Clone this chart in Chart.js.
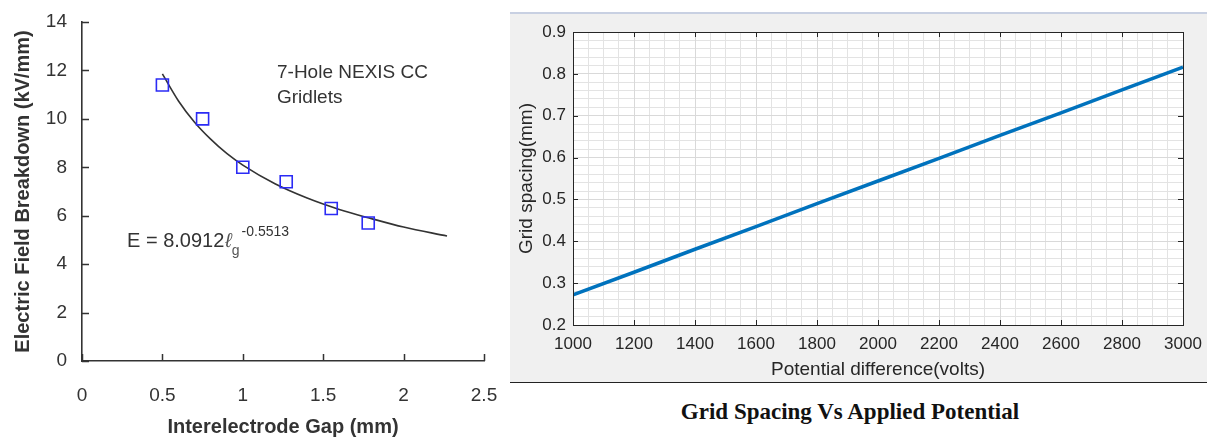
<!DOCTYPE html>
<html>
<head>
<meta charset="utf-8">
<script src="https://cdn.jsdelivr.net/npm/chart.js@4.4.1/dist/chart.umd.min.js"></script>
<style>
  body { margin: 0; background: #fff; }
  #wrap { position: relative; width: 1207px; height: 440px; overflow: hidden; }
  #left { position: absolute; left: 0; top: 0; }
  #panel { position: absolute; left: 510px; top: 12px; width: 697px; height: 368px;
           background: #f0f0f0; border-top: 2px solid #c8d0e2; border-bottom: 1.5px solid #222; }
  #right { position: absolute; left: 0; top: 0; }
  #caption { position: absolute; left: 600px; top: 399px; width: 500px; text-align: center;
             font: bold 23px "Liberation Serif", "Times New Roman", serif; color: #111; }
</style>
</head>
<body>
<div id="wrap">
  <canvas id="left" width="505" height="440"></canvas>
  <div id="panel"><canvas id="right" width="697" height="367"></canvas></div>
  <div id="caption">Grid Spacing Vs Applied Potential</div>
</div>
<script>
// measured breakdown field vs gap (7-hole gridlets)
const gapMeasured = [0.5, 0.75, 1.0, 1.27, 1.55, 1.78];
const fieldMeasured = [11.4, 10.0, 8.0, 7.4, 6.3, 5.7];

// fitted power-law curve
const gapFit = [0.5, 0.6, 0.7, 0.8, 0.9, 1.0, 1.2, 1.4, 1.6, 1.8, 2.0, 2.27];
const fieldFit = [11.86, 10.74, 9.86, 9.16, 8.57, 8.09, 7.32, 6.73, 6.26, 5.88, 5.53, 5.16];

// grid spacing vs applied potential
const volts = [1000, 1200, 1400, 1600, 1800, 2000, 2200, 2400, 2600, 2800, 3000];
const spacing = [0.272, 0.326, 0.381, 0.435, 0.490, 0.544, 0.598, 0.653, 0.707, 0.762, 0.816];

const arial = '"Liberation Sans", Arial, sans-serif';

// fixed axis box size, no extra room reserved for overhanging labels
function fixBox(size) {
  return s => {
    if (s.isHorizontal()) s.height = size; else s.width = size;
    s.paddingLeft = s.paddingRight = s.paddingTop = s.paddingBottom = 0;
  };
}

// ticks drawn on the inner side of the axes
const innerTicks = {
  id: 'innerTicks',
  afterDraw(chart, args, opts) {
    const ctx = chart.ctx;
    const a = chart.chartArea;
    const xs = chart.scales.x, ys = chart.scales.y;
    ctx.save();
    ctx.strokeStyle = opts.color;
    ctx.lineWidth = opts.width;
    ctx.beginPath();
    xs.ticks.forEach(t => {
      const px = Math.round(xs.getPixelForValue(t.value)) + 0.5;
      ctx.moveTo(px, a.bottom); ctx.lineTo(px, a.bottom - opts.len);
      if (opts.box) { ctx.moveTo(px, a.top); ctx.lineTo(px, a.top + opts.len); }
    });
    ys.ticks.forEach(t => {
      const py = Math.round(ys.getPixelForValue(t.value)) + 0.5;
      ctx.moveTo(a.left, py); ctx.lineTo(a.left + opts.len, py);
      if (opts.box) { ctx.moveTo(a.right, py); ctx.lineTo(a.right - opts.len, py); }
    });
    ctx.stroke();
    if (opts.box) {
      ctx.strokeRect(Math.round(a.left) + 0.5, Math.round(a.top) + 0.5,
                     Math.round(a.right - a.left), Math.round(a.bottom - a.top));
    }
    ctx.restore();
  }
};

// text notes inside the left plot
const notes = {
  id: 'notes',
  afterDraw(chart) {
    const ctx = chart.ctx;
    ctx.save();
    ctx.fillStyle = '#333';
    ctx.textBaseline = 'middle';
    ctx.textAlign = 'left';
    ctx.font = '19px ' + arial;
    ctx.fillText('7-Hole NEXIS CC', 277, 73);
    ctx.fillText('Gridlets', 277, 98);
    let x = 127;
    const main = 'E = 8.0912';
    ctx.font = '20px ' + arial;
    ctx.fillText(main, x, 241);
    x += ctx.measureText(main).width + 1;
    ctx.fillStyle = '#555';
    ctx.font = 'italic 20px ' + arial;
    ctx.fillText('\u2113', x, 241);
    x += ctx.measureText('\u2113').width;
    ctx.font = '14px ' + arial;
    ctx.fillText('g', x, 251);
    x += ctx.measureText('g').width + 2;
    ctx.fillStyle = '#333';
    ctx.fillText('-0.5513', x, 232);
    ctx.restore();
  }
};

new Chart(document.getElementById('left'), {
  type: 'scatter',
  data: {
    datasets: [
      {
        data: gapMeasured.map((g, i) => ({ x: g, y: fieldMeasured[i] })),
        pointStyle: 'rect',
        pointRadius: 8.5,
        pointBorderColor: '#2b2bf5',
        pointBorderWidth: 1.6,
        pointBackgroundColor: 'rgba(0,0,0,0)',
        showLine: false
      },
      {
        data: gapFit.map((g, i) => ({ x: g, y: fieldFit[i] })),
        showLine: true,
        pointRadius: 0,
        borderColor: '#333',
        borderWidth: 1.6,
        cubicInterpolationMode: 'monotone'
      }
    ]
  },
  options: {
    responsive: false,
    animation: false,
    layout: { padding: { left: 0, top: 22, right: 21, bottom: 0 } },
    plugins: {
      legend: { display: false },
      tooltip: { enabled: false },
      innerTicks: { color: '#333', width: 1.5, len: 7, box: false }
    },
    scales: {
      x: {
        type: 'linear', min: 0, max: 2.5,
        afterFit: fixBox(79),
        grid: { display: false, drawTicks: false },
        border: { display: true, color: '#333', width: 1.6 },
        ticks: { stepSize: 0.5, padding: 23, color: '#333', font: { size: 19, family: arial },
                 callback: v => String(v) },
        title: { display: true, text: 'Interelectrode Gap (mm)', color: '#333',
                 padding: { top: 0, bottom: 1 }, font: { size: 20, weight: 'bold', family: arial } }
      },
      y: {
        min: 0, max: 14,
        afterFit: fixBox(82),
        grid: { display: false, drawTicks: false },
        border: { display: true, color: '#333', width: 1.6 },
        ticks: { stepSize: 2, padding: 15, color: '#333', font: { size: 19, family: arial } },
        title: { display: true, text: 'Electric Field Breakdown (kV/mm)', color: '#333',
                 padding: { top: 11, bottom: 0 }, font: { size: 20, weight: 'bold', family: arial } }
      }
    }
  },
  plugins: [innerTicks, notes]
});

// white plotting area on the grey panel
const plotBg = {
  id: 'plotBg',
  beforeDraw(chart) {
    const a = chart.chartArea;
    chart.ctx.save();
    chart.ctx.fillStyle = '#fff';
    chart.ctx.fillRect(a.left, a.top, a.right - a.left, a.bottom - a.top);
    chart.ctx.restore();
  }
};

const minorGrid = { color: '#e3e3e3', lineWidth: 1, borderDash: [2, 2], drawTicks: false };

new Chart(document.getElementById('right'), {
  type: 'scatter',
  data: {
    datasets: [{
      data: volts.map((v, i) => ({ x: v, y: spacing[i] })),
      showLine: true,
      pointRadius: 0,
      borderColor: '#0072bd',
      borderWidth: 3.5
    }]
  },
  options: {
    responsive: false,
    animation: false,
    layout: { padding: { left: 0, top: 18, right: 24, bottom: 0 } },
    plugins: {
      legend: { display: false },
      tooltip: { enabled: false },
      innerTicks: { color: '#262626', width: 1, len: 5, box: true }
    },
    scales: {
      xm: {
        type: 'linear', position: 'bottom', min: 1000, max: 3000,
        afterFit: fixBox(0),
        grid: minorGrid,
        border: { display: false },
        ticks: { display: false, stepSize: 50 }
      },
      ym: {
        type: 'linear', position: 'left', min: 0.2, max: 0.9,
        afterFit: fixBox(0),
        grid: minorGrid,
        border: { display: false },
        ticks: { display: false, stepSize: 0.02 }
      },
      x: {
        type: 'linear', position: 'bottom', min: 1000, max: 3000,
        afterFit: fixBox(56),
        grid: { color: '#d9d9d9', drawTicks: false },
        border: { display: false },
        ticks: { stepSize: 200, autoSkip: false, maxRotation: 0, padding: 9, color: '#262626',
                 font: { size: 17, family: arial }, callback: v => String(v) },
        title: { display: true, text: 'Potential difference(volts)', color: '#262626',
                 padding: { top: 0, bottom: 0 }, font: { size: 19, family: arial } }
      },
      y: {
        type: 'linear', position: 'left', min: 0.2, max: 0.9,
        afterFit: fixBox(63),
        grid: { color: '#d9d9d9', drawTicks: false },
        border: { display: false },
        ticks: { stepSize: 0.1, padding: 7, color: '#262626', font: { size: 17, family: arial },
                 callback: v => v.toFixed(1) },
        title: { display: true, text: 'Grid spacing(mm)', color: '#262626',
                 padding: { top: 5, bottom: 0 }, font: { size: 19, family: arial } }
      }
    }
  },
  plugins: [plotBg, innerTicks]
});
</script>
</body>
</html>
